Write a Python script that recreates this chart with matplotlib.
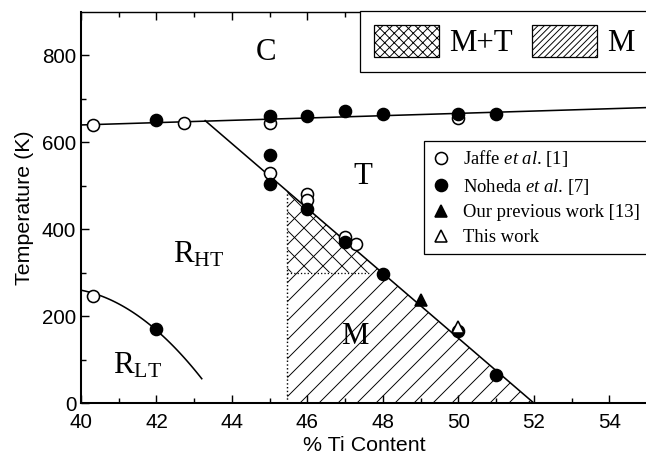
import matplotlib
matplotlib.use("Agg")
import matplotlib.pyplot as plt
import matplotlib.patches as mpatches
import numpy as np

# data
jaffe_x = [40.31, 40.31, 42.74, 45, 45, 46, 46, 47, 47.3, 50]
jaffe_y = [246, 640, 645, 645, 530, 482, 468, 382, 366, 655]
noheda_x = [42, 42, 45, 45, 45, 46, 46, 47, 47, 48, 48, 50, 50, 51, 51]
noheda_y = [652, 170, 660, 570, 505, 660, 447, 671, 371, 666, 298, 666, 165, 666, 64]
prev_x = [49]
prev_y = [237]
this_x = [50]
this_y = [175]

# phase boundaries
upper_x = [40, 55]
upper_y = [640, 680]
tet_x = [43.29, 52]
tet_y = [650, 0]
rlt_x = [40, 40.31, 42, 43.2]
rlt_y = [265, 246, 170, 55]
mpb_x = 45.47      # left edge of monoclinic region
mt_y = 300         # lower edge of M+T region

DPI = 114
plt.rcParams['mathtext.fontset'] = 'custom'
plt.rcParams['mathtext.rm'] = 'Liberation Serif'
plt.rcParams['mathtext.it'] = 'Liberation Serif:italic'
plt.rcParams['hatch.linewidth'] = 0.6
plt.rcParams['font.family'] = 'Liberation Sans'

fig = plt.figure(figsize=(646 / DPI, 461 / DPI), dpi=DPI)
ax = fig.add_axes([81 / 646, 58 / 461, 566 / 646, 391 / 461])


def tet_line(x):
    return np.interp(x, tet_x, tet_y)


# hatched regions
top_mpb = tet_line(mpb_x)
x300 = np.interp(mt_y, tet_y[::-1], tet_x[::-1])
ax.fill([mpb_x, mpb_x, tet_x[1]], [0, top_mpb, 0], facecolor='white',
        edgecolor='black', linewidth=0, hatch='//', zorder=1)
ax.fill([mpb_x, mpb_x, x300], [mt_y, top_mpb, mt_y], facecolor='none',
        edgecolor='black', linewidth=0, hatch='\\\\', zorder=1)
ax.plot([mpb_x, mpb_x], [0, top_mpb], 'k:', lw=0.9, zorder=2)
ax.plot([mpb_x, 47.62], [mt_y, mt_y], 'k:', lw=0.8, zorder=2)

# boundary lines
ax.plot(upper_x, upper_y, 'k-', lw=1.0, zorder=2)
ax.plot(tet_x, tet_y, 'k-', lw=1.0, zorder=2)
coef = np.polyfit(rlt_x, rlt_y, 2)
xs = np.linspace(rlt_x[0], rlt_x[-1], 100)
ax.plot(xs, np.polyval(coef, xs), 'k-', lw=1.0, zorder=2)

# data points
ms = 7.6
h1, = ax.plot(jaffe_x, jaffe_y, 'o', ms=ms, mfc='white', mec='black', mew=1.0,
              ls='none', zorder=3, label='Jaffe $\\it{et\\ al}$. [1]')
h2, = ax.plot(noheda_x, noheda_y, 'o', ms=ms, mfc='black', mec='black',
              ls='none', zorder=4, label='Noheda $\\it{et\\ al}$. [7]')
h3, = ax.plot(prev_x, prev_y, '^', ms=ms + 0.5, mfc='black', mec='black',
              ls='none', zorder=5, label='Our previous work [13]')
h4, = ax.plot(this_x, this_y, '^', ms=ms + 0.5, mfc='white', mec='black',
              mew=1.0, ls='none', zorder=5, label='This work')

# region labels
lab = dict(fontsize=19.5, family='Liberation Serif', color='black')
ax.text(44.91, 807, 'C', ha='center', va='center', **lab)
ax.text(47.46, 522, 'T', ha='center', va='center', **lab)
ax.text(47.25, 152, 'M', ha='center', va='center', zorder=6, **lab)
ax.text(42.44, 324, r'$\mathrm{R}_{\mathrm{HT}}$', ha='left', va='baseline', **lab)
ax.text(40.85, 69, r'$\mathrm{R}_{\mathrm{LT}}$', ha='left', va='baseline', **lab)

ax.set_xlim(40, 55)
ax.set_ylim(0, 900)
ax.set_xticks(range(40, 56, 2))
ax.set_xticks(range(40, 56, 1), minor=True)
ax.set_yticks([0, 200, 400, 600, 800])
ax.set_yticks(range(0, 900, 100), minor=True)
ax.tick_params(which='both', direction='in', top=True, labelsize=13, width=0.9)
ax.tick_params(which='major', length=5, pad=3)
ax.tick_params(axis='x', which='major', pad=6)
ax.tick_params(which='minor', length=3)
ax.spines['right'].set_visible(False)
for s in ['left', 'bottom']:
    ax.spines[s].set_linewidth(1.3)
ax.spines['top'].set_linewidth(0.9)
ax.set_xlabel('% Ti Content', fontsize=13.5, labelpad=3)
ax.set_ylabel('Temperature (K)', fontsize=13.5, labelpad=5)

# marker legend
leg2 = fig.legend(handles=[h1, h2, h3, h4], loc='upper left',
                  bbox_to_anchor=(424 / 646, 1 - 141 / 461), borderaxespad=0,
                  fancybox=False, edgecolor='black', framealpha=1,
                  prop={'family': 'Liberation Serif', 'size': 11.8},
                  handlelength=1.0, handletextpad=0.7, labelspacing=0.4,
                  borderpad=0.4)
leg2.get_frame().set_linewidth(0.8)

# hatch legend
p1 = mpatches.Patch(facecolor='white', edgecolor='black', hatch='xxxx', lw=0.8, label='M+T')
p2 = mpatches.Patch(facecolor='white', edgecolor='black', hatch='//////', lw=0.8, label='M')
leg1 = fig.legend(handles=[p1, p2], loc='upper left', ncol=2,
                  bbox_to_anchor=(360 / 646, 1 - 11 / 461), borderaxespad=0,
                  fancybox=False, edgecolor='black', framealpha=1,
                  prop={'family': 'Liberation Serif', 'size': 19.5},
                  handlelength=2.1, handleheight=1.2, handletextpad=0.35,
                  columnspacing=0.6, borderpad=0.45)
leg1.get_frame().set_linewidth(0.8)

fig.savefig('out.png', dpi=DPI)
